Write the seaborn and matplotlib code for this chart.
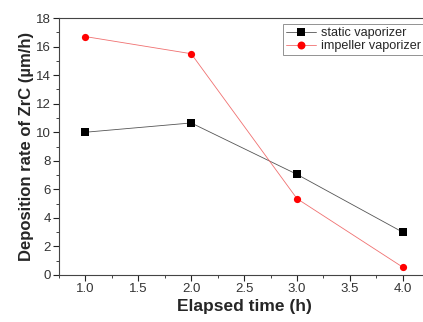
import numpy as np
import pandas as pd
import matplotlib
matplotlib.use("Agg")
import matplotlib.pyplot as plt
import seaborn as sns
from matplotlib.ticker import MultipleLocator

# data
time_h = [1.0, 2.0, 3.0, 4.0]
static_rate = [10.0, 10.65, 7.05, 3.0]
impeller_rate = [16.7, 15.5, 5.35, 0.55]
series_names = ["static vaporizer", "impeller vaporizer"]

df = pd.DataFrame({
    "time": time_h * 2,
    "rate": static_rate + impeller_rate,
    "series": [series_names[0]] * 4 + [series_names[1]] * 4,
})

sns.set_theme(style="ticks")
plt.rcParams["font.family"] = ["Liberation Sans", "DejaVu Sans"]

fig = plt.figure(figsize=(4.23, 3.22), dpi=100)
ax = fig.add_axes([0.1395, 0.146, 0.875, 0.798])

sns.lineplot(data=df, x="time", y="rate", hue="series", style="series",
             palette={series_names[0]: "black", series_names[1]: "red"},
             markers={series_names[0]: "s", series_names[1]: "o"},
             dashes=False, linewidth=0.6, markersize=5.2, markeredgewidth=0,
             ax=ax, legend=True)

# thin, lighter connecting lines as in the reference
line_cols = {"s": "#555555", "o": "#f07070"}
for ln in ax.lines:
    m = ln.get_marker()
    if m in line_cols:
        ln.set_color(line_cols[m])
        ln.set_markerfacecolor("black" if m == "s" else "red")
        ln.set_markeredgecolor("black" if m == "s" else "red")

ax.set_xlim(0.75, 4.25)
ax.set_ylim(0, 18)
ax.xaxis.set_major_locator(MultipleLocator(0.5))
ax.xaxis.set_minor_locator(MultipleLocator(0.25))
ax.yaxis.set_major_locator(MultipleLocator(2))
ax.yaxis.set_minor_locator(MultipleLocator(1))
ax.tick_params(which="major", direction="out", length=4, width=0.8,
               labelsize=9.5, colors="#222222", pad=2)
ax.tick_params(which="minor", direction="out", length=2, width=0.6, colors="#222222")
ax.tick_params(axis="x", labelcolor="#333333")
ax.tick_params(axis="y", labelcolor="#333333")

ax.set_xlabel("Elapsed time (h)", fontsize=12.5, fontweight="bold", labelpad=3)
ax.set_ylabel("Deposition rate of ZrC (\u00b5m/h)", fontsize=12, fontweight="bold", labelpad=1)

for s in ax.spines.values():
    s.set_visible(True)
    s.set_linewidth(0.8)
    s.set_color("#444444")

leg = ax.legend(loc="upper right", bbox_to_anchor=(0.985, 0.975), fontsize=9.1,
                frameon=True, fancybox=False, edgecolor="#777777",
                handlelength=2.4, handletextpad=0.4, borderpad=0.2,
                labelspacing=0.1, borderaxespad=0, markerscale=1.1)
leg.get_frame().set_linewidth(0.7)
for h in leg.get_lines():
    m = h.get_marker()
    if m in line_cols:
        h.set_color(line_cols[m])
        h.set_markerfacecolor("black" if m == "s" else "red")
        h.set_markeredgecolor("black" if m == "s" else "red")

fig.savefig("out.png", dpi=100)
